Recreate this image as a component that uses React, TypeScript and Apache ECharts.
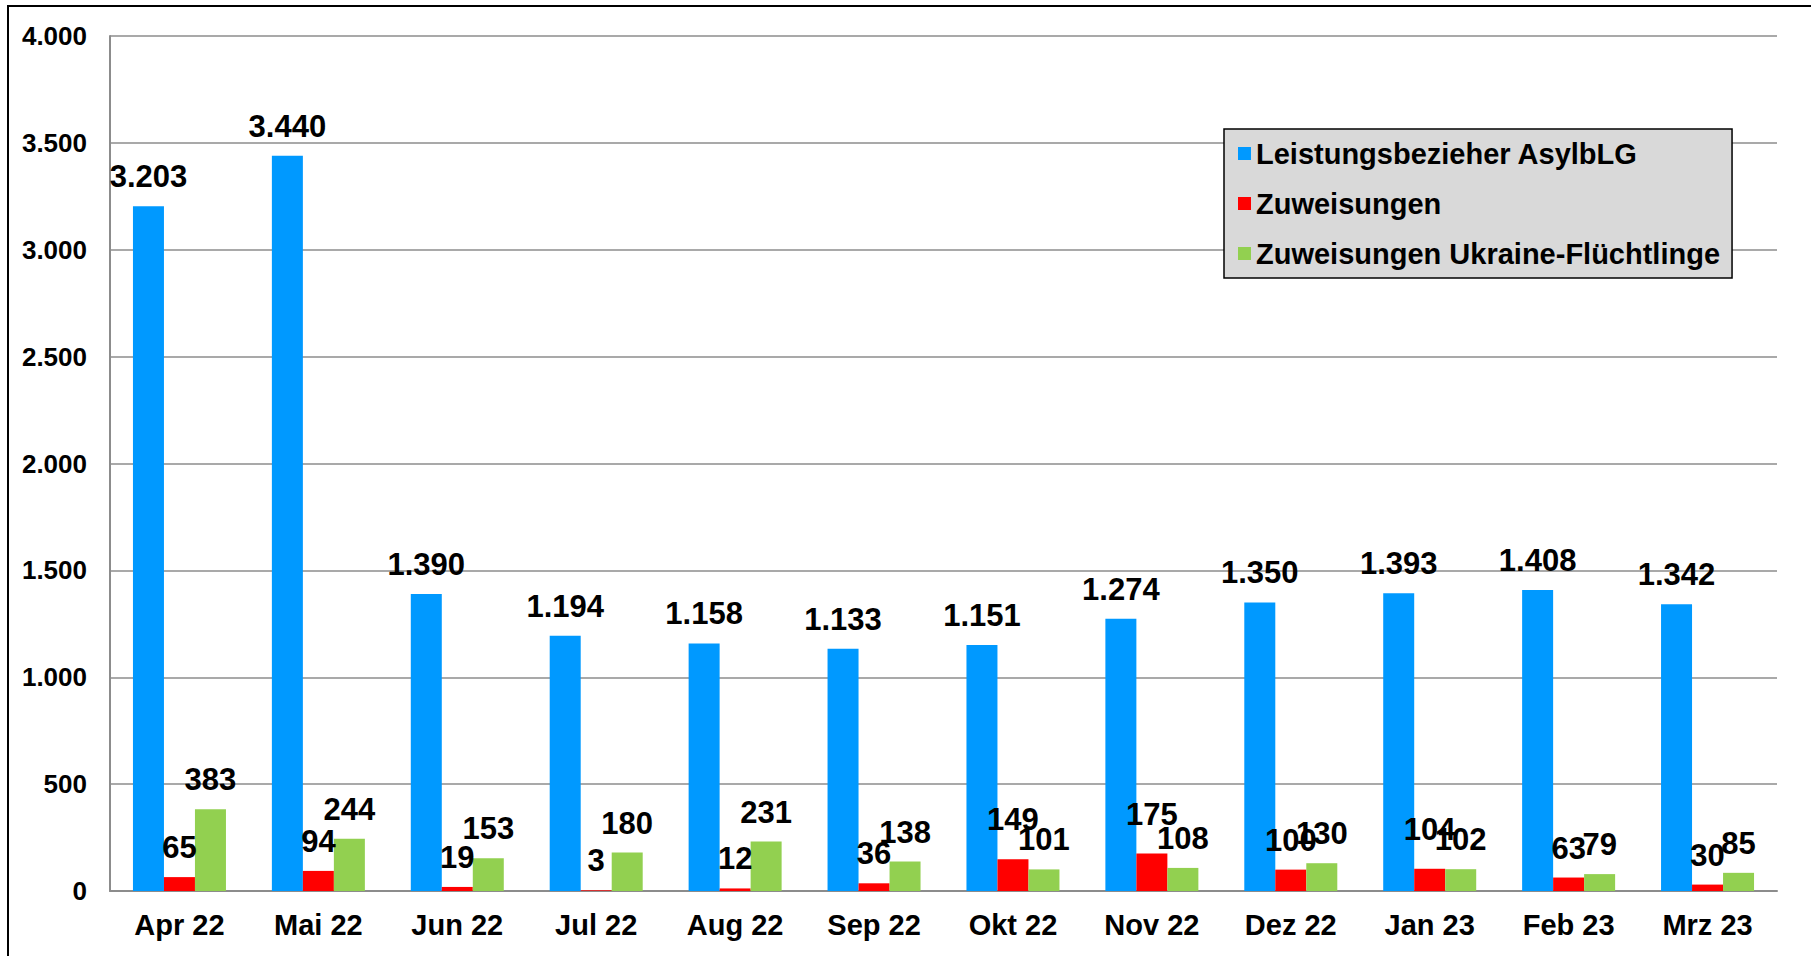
import React, { useEffect, useRef } from "react";
import * as echarts from "echarts";

const categories = ["Apr 22", "Mai 22", "Jun 22", "Jul 22", "Aug 22", "Sep 22", "Okt 22", "Nov 22", "Dez 22", "Jan 23", "Feb 23", "Mrz 23"];
const leistungsbezieher = [3203, 3440, 1390, 1194, 1158, 1133, 1151, 1274, 1350, 1393, 1408, 1342];
const zuweisungen = [65, 94, 19, 3, 12, 36, 149, 175, 100, 104, 63, 30];
const ukraine = [383, 244, 153, 180, 231, 138, 101, 108, 130, 102, 79, 85];
const seriesNames = ["Leistungsbezieher AsylbLG", "Zuweisungen", "Zuweisungen Ukraine-Flüchtlinge"];
const colors = ["#0099FF", "#FF0000", "#92D050"];

const FONT = "'Liberation Sans', Arial, sans-serif";

function de(v: number): string {
  const s = String(Math.round(Math.abs(v)));
  const out = s.replace(/\B(?=(\d{3})+(?!\d))/g, ".");
  return (v < 0 ? "-" : "") + out;
}

export default function App() {
  const ref = useRef<HTMLDivElement>(null);
  useEffect(() => {
    if (!ref.current) return;
    const chart = echarts.init(ref.current, null, { renderer: "svg" });
    const baseLabel = {
      show: true,
      position: "top",
      distance: 14,
      color: "#000",
      fontFamily: FONT,
      fontWeight: "bold",
      fontSize: 31,
      formatter: (p: any) => de(p.value),
    };
    // red labels are lifted when the red bar reaches the green bar's height (as in the reference)
    const redData = zuweisungen.map((v, i) => ({
      value: v,
      label: { distance: v >= ukraine[i] ? 24 : 14 },
    }));
    const data: any[] = [leistungsbezieher, redData, ukraine];
    chart.setOption({
      animation: false,
      backgroundColor: "#fff",
      textStyle: { fontFamily: FONT },
      graphic: [
        {
          type: "rect",
          shape: { x: 8, y: 6, width: 1830, height: 980 },
          style: { fill: "none", stroke: "#000", lineWidth: 2 },
          silent: true,
          z: 100,
        },
      ],
      legend: {
        left: 1224,
        top: 129,
        orient: "vertical",
        data: seriesNames,
        icon: "rect",
        itemWidth: 13,
        itemHeight: 13,
        itemGap: 21,
        padding: [10, 12, 10, 14],
        backgroundColor: "#D9D9D9",
        borderColor: "#000",
        borderWidth: 1.5,
        textStyle: {
          fontFamily: FONT,
          fontWeight: "bold",
          fontSize: 29,
          lineHeight: 29,
          color: "#000",
        },
      },
      grid: { left: 110, right: 34, top: 36, bottom: 65, containLabel: false },
      xAxis: {
        type: "category",
        data: categories,
        axisLine: { show: true, lineStyle: { color: "#8C8C8C", width: 2 } },
        axisTick: { show: false },
        axisLabel: {
          color: "#000",
          fontFamily: FONT,
          fontWeight: "bold",
          fontSize: 29,
          margin: 19,
          interval: 0,
        },
      },
      yAxis: {
        type: "value",
        min: 0,
        max: 4000,
        interval: 500,
        axisLine: { show: true, lineStyle: { color: "#8C8C8C", width: 2 } },
        axisTick: { show: false },
        splitLine: { show: true, lineStyle: { color: "#8C8C8C", width: 1.5 } },
        axisLabel: {
          color: "#000",
          fontFamily: FONT,
          fontWeight: "bold",
          fontSize: 26,
          margin: 23,
          formatter: (v: number) => de(v),
        },
      },
      series: seriesNames.map((name, i) => ({
        name,
        type: "bar",
        data: data[i],
        itemStyle: { color: colors[i] },
        barWidth: 31,
        barGap: "0%",
        label: baseLabel,
      })),
    });
    return () => chart.dispose();
  }, []);
  return (
    <div
      ref={ref}
      style={{ position: "fixed", left: 0, top: 0, width: 1811, height: 956, overflow: "hidden" }}
    />
  );
}
